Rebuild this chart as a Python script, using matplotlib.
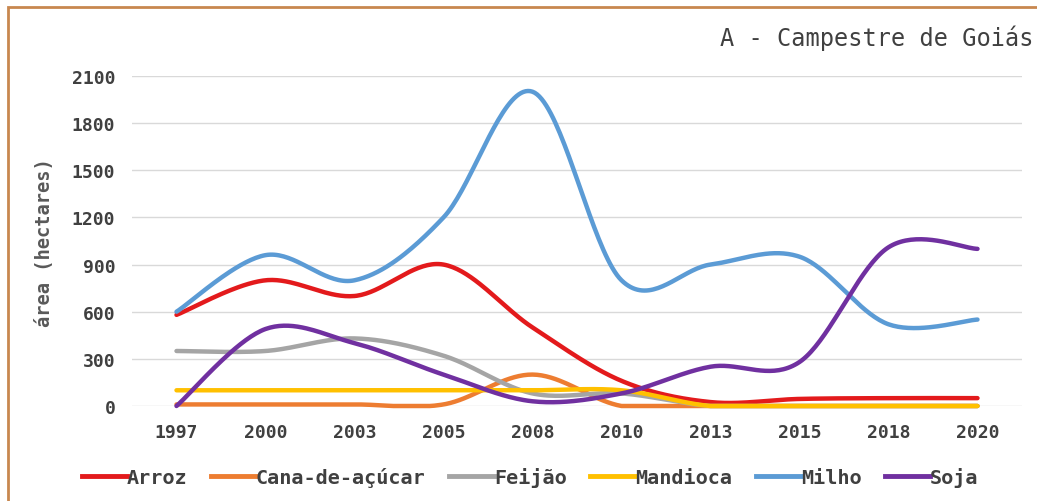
import numpy as np
import matplotlib
matplotlib.use("Agg")
import matplotlib.pyplot as plt
from matplotlib.patches import Rectangle
from matplotlib.lines import Line2D

years = ["1997", "2000", "2003", "2005", "2008", "2010", "2013", "2015", "2018", "2020"]
arroz = [580, 800, 700, 900, 500, 160, 25, 45, 50, 50]
cana = [10, 10, 10, 10, 200, 0, 0, 0, 0, 0]
feijao = [350, 350, 430, 320, 80, 80, 0, 0, 0, 0]
mandioca = [100, 100, 100, 100, 100, 100, 0, 0, 0, 0]
milho = [600, 960, 800, 1200, 2000, 800, 900, 950, 520, 550]
soja = [0, 490, 400, 200, 30, 80, 250, 280, 1010, 1000]
yticks = [0, 300, 600, 900, 1200, 1500, 1800, 2100]

names = ["Arroz", "Cana-de-açúcar", "Feijão", "Mandioca", "Milho", "Soja"]
series = [arroz, cana, feijao, mandioca, milho, soja]
colors = ["#e31a1c", "#ed7d31", "#a5a5a5", "#ffc000", "#5b9bd5", "#7030a0"]


def smooth(y, n=40):
    y = np.asarray(y, float)
    x = np.arange(len(y), dtype=float)
    xs, ys = [], []
    for i in range(len(y) - 1):
        p0 = np.array([x[i], y[i]])
        p3 = np.array([x[i + 1], y[i + 1]])
        pm = np.array([x[max(i - 1, 0)], y[max(i - 1, 0)]])
        pp = np.array([x[min(i + 2, len(y) - 1)], y[min(i + 2, len(y) - 1)]])
        c1 = p0 + (p3 - pm) / 6.0
        c2 = p3 - (pp - p0) / 6.0
        t = np.linspace(0, 1, n)[:, None]
        pts = ((1 - t) ** 3) * p0 + 3 * ((1 - t) ** 2) * t * c1 + 3 * (1 - t) * t ** 2 * c2 + t ** 3 * p3
        xs.extend(pts[:, 0]); ys.extend(pts[:, 1])
    return np.array(xs), np.array(ys)


mono = "DejaVu Sans Mono"
W, H = 1037, 502
fig = plt.figure(figsize=(W / 100, H / 100), dpi=100)
fig.patch.set_facecolor("white")

ax = fig.add_axes([132 / W, 1 - 407 / H, (1022 - 132) / W, (407 - 77) / H])
ax.set_facecolor("none")
for s in ax.spines.values():
    s.set_visible(False)
ax.set_ylim(0, 2100)
ax.set_xlim(-0.5, len(years) - 0.5)
ax.set_yticks(yticks)
ax.set_yticklabels([str(v) for v in yticks], family=mono, fontsize=13, fontweight="bold", color="#404040")
ax.set_xticks(range(len(years)))
ax.set_xticklabels(years, family=mono, fontsize=13, fontweight="bold", color="#404040")
ax.tick_params(length=0, pad=12)
ax.tick_params(axis="x", pad=12)
ax.grid(axis="y", color="#d9d9d9", lw=1)
ax.set_axisbelow(True)

for name, vals, c in zip(names, series, colors):
    xs, ys = smooth(vals)
    ys = np.maximum(ys, 0)
    ax.plot(xs, ys, color=c, lw=3.2, solid_capstyle="round", clip_on=False, label=name)

fig.text(45 / W, 1 - 243 / H, "área (hectares)", rotation=90, family=mono, fontsize=13.5,
         fontweight="bold", color="#595959", ha="center", va="center")
fig.text(1033 / W, 1 - 38 / H, "A - Campestre de Goiás", family=mono, fontsize=17,
         color="#404040", ha="right", va="center")

handles = [Line2D([], [], color=c, lw=3.5) for c in colors]
fig.legend(handles, names, loc="center", bbox_to_anchor=(530 / W, 1 - 478 / H), ncol=6,
           frameon=False, prop={"family": mono, "size": 14.5, "weight": "bold"}, handlelength=2.25,
           handletextpad=0.0, columnspacing=1.15, labelcolor="#404040")

fig.add_artist(Rectangle((8 / W, -0.1), 1.2, 1 - 8 / H + 0.1, transform=fig.transFigure,
                         fill=False, edgecolor="#c8874f", lw=2))

fig.savefig("out.png", dpi=100)
